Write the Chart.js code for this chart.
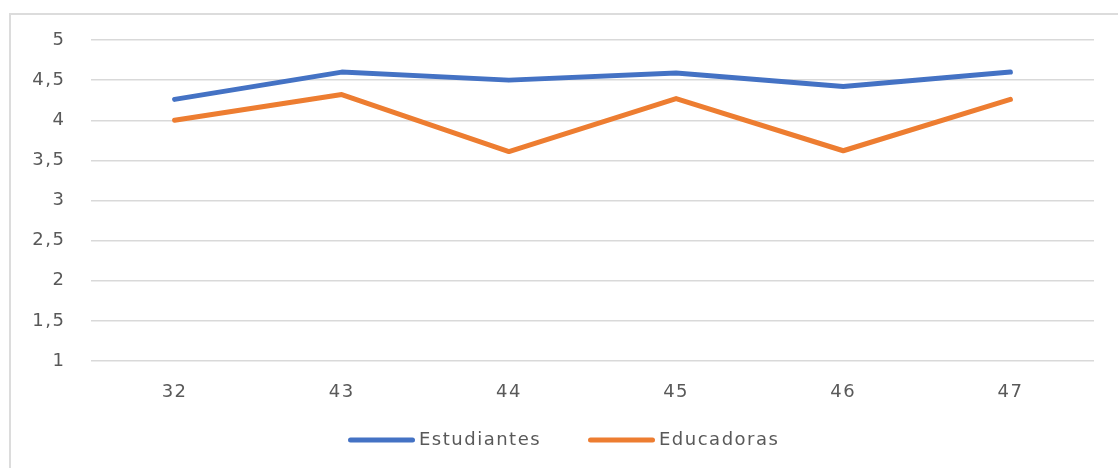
<!DOCTYPE html>
<html>
<head>
<meta charset="utf-8">
<script src="https://cdn.jsdelivr.net/npm/chart.js@4/dist/chart.umd.min.js"></script>
<style>
  html, body { margin: 0; padding: 0; background: #fff; overflow: hidden; }
  #frame {
    position: absolute; left: 9px; top: 13px; width: 1300px; height: 600px;
    border-left: 2px solid #dcdcdc; border-top: 2px solid #dcdcdc;
  }
  #wrap { position: absolute; left: 0; top: 0; width: 1118px; height: 468px; }
</style>
</head>
<body>
<div id="frame"></div>
<div id="wrap"><canvas id="chart" width="1118" height="468"></canvas></div>
<script>
// Categories and series
const categories = ['32', '43', '44', '45', '46', '47'];
const estudiantes = [4.26, 4.60, 4.50, 4.59, 4.42, 4.60];
const educadoras = [4.00, 4.32, 3.61, 4.27, 3.62, 4.26];

// Value axis
const yMin = 1;
const yMax = 5;
const yStep = 0.5;

const textColor = '#595959';
const gridColor = '#d9d9d9';
const fontFamily = '"DejaVu Sans", sans-serif';
const fontSize = 18;
const letterGap = '1.5px';

// Slightly wider glyph spacing for all chart text
const spacing = {
  id: 'spacing',
  beforeUpdate(chart) { chart.ctx.letterSpacing = letterGap; },
  beforeLayout(chart) { chart.ctx.letterSpacing = letterGap; },
  beforeDraw(chart) { chart.ctx.letterSpacing = letterGap; }
};

// Legend row below the axis: a short stroke in the series colour, then its name
const lineLegend = {
  id: 'lineLegend',
  afterDraw(chart, args, opts) {
    const ctx = chart.ctx;
    ctx.save();
    ctx.letterSpacing = letterGap;
    ctx.font = fontSize + 'px ' + fontFamily;
    ctx.textBaseline = 'middle';
    ctx.textAlign = 'left';
    let x = opts.startX;
    chart.data.datasets.forEach((ds) => {
      ctx.strokeStyle = ds.borderColor;
      ctx.lineWidth = ds.borderWidth;
      ctx.lineCap = 'round';
      ctx.beginPath();
      ctx.moveTo(x + 2.5, opts.y);
      ctx.lineTo(x + opts.lineLength - 2.5, opts.y);
      ctx.stroke();
      ctx.fillStyle = textColor;
      ctx.fillText(ds.label, x + opts.lineLength + 4, opts.y);
      x += opts.slot;
    });
    ctx.restore();
  }
};

new Chart(document.getElementById('chart'), {
  type: 'line',
  data: {
    labels: categories,
    datasets: [
      {
        label: 'Estudiantes',
        data: estudiantes,
        borderColor: '#4472C4',
        backgroundColor: '#4472C4',
        borderWidth: 5,
        borderCapStyle: 'round',
        borderJoinStyle: 'round',
        pointRadius: 0,
        pointHoverRadius: 0,
        tension: 0
      },
      {
        label: 'Educadoras',
        data: educadoras,
        borderColor: '#ED7D31',
        backgroundColor: '#ED7D31',
        borderWidth: 5,
        borderCapStyle: 'round',
        borderJoinStyle: 'round',
        pointRadius: 0,
        pointHoverRadius: 0,
        tension: 0
      }
    ]
  },
  options: {
    responsive: false,
    animation: false,
    events: [],
    layout: { padding: { left: 0, right: 24, top: 40, bottom: 65 } },
    scales: {
      x: {
        offset: true,
        grid: { display: false, drawTicks: false },
        border: { display: false },
        ticks: {
          color: textColor,
          padding: 21,
          font: { family: fontFamily, size: fontSize },
          maxRotation: 0
        },
        afterFit(scale) { scale.height = 42; }
      },
      y: {
        min: yMin,
        max: yMax,
        grid: { color: gridColor, lineWidth: 1.5, drawTicks: false },
        border: { display: false },
        ticks: {
          stepSize: yStep,
          color: textColor,
          padding: 25.5,
          font: { family: fontFamily, size: fontSize },
          callback: (v) => String(v).replace('.', ',')
        },
        afterFit(scale) { scale.width = 91; }
      }
    },
    plugins: {
      tooltip: { enabled: false },
      legend: { display: false },
      lineLegend: { startX: 348, y: 440, lineLength: 67, slot: 240 }
    }
  },
  plugins: [spacing, lineLegend]
});
</script>
</body>
</html>
